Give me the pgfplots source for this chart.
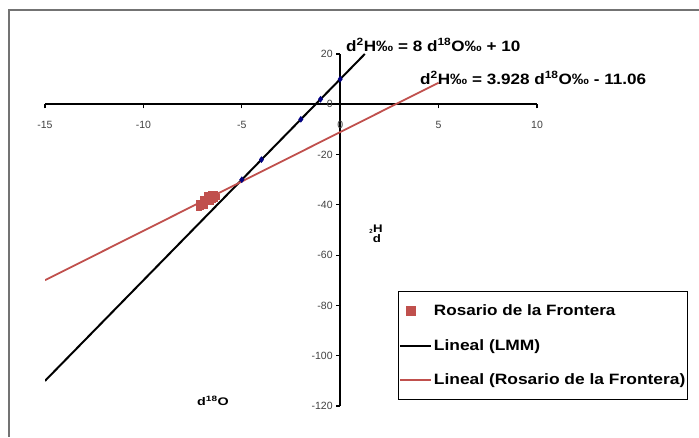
\documentclass[border=0pt]{standalone}
\usepackage{pgfplots}
\pgfplotsset{compat=1.18}
\usepackage{graphicx}
\usepackage{fontspec}
\setmainfont{Liberation Sans}
\definecolor{exred}{RGB}{192,80,77}
\definecolor{exblue}{RGB}{0,0,128}
\newcommand{\wide}[2]{\scalebox{#1}[1]{#2}}
\begin{document}
\begin{tikzpicture}[x=1pt,y=1pt]
\path[use as bounding box] (0,0) rectangle (699,437);
% outer chart frame
\draw[black!55, line width=1.6pt] (699,427) -- (9,427) -- (9,0);
\begin{axis}[
  at={(45pt,31pt)}, anchor=south west,
  scale only axis, width=492pt, height=352pt,
  xmin=-15, xmax=10, ymin=-120, ymax=20,
  axis lines=middle,
  axis line style={-, line width=2pt},
  xtick={-15,-10,...,10}, ytick={-120,-100,...,20},
  hide obscured x ticks=false, hide obscured y ticks=false,
  tick align=outside, major tick length=4pt,
  tick style={black, line width=1.2pt},
  /pgf/number format/assume math mode=true,
  ticklabel style={font=\fontsize{10.5}{11}\selectfont, text=black!75},
  xticklabel style={yshift=-9pt},
  legend style={at={(0.7175,0.3267)}, anchor=north west, draw=black,
    line width=0.9pt, fill=white, font=\bfseries\fontsize{15}{16}\selectfont,
    row sep=18pt, inner xsep=0.5pt, inner ysep=11.5pt},
  legend cell align=left,
  clip=true,
]
% LMM points (no legend)
\addplot[only marks, mark=diamond*, mark size=3pt, exblue, forget plot]
  coordinates {(0,10) (-1,2) (-2,-6) (-4,-22) (-5,-30)};
% Rosario de la Frontera samples
\addplot[only marks, mark=square*, mark size=2.6pt, exred,
  legend image code/.code={\fill[exred] (2pt,-4.5pt) rectangle (11pt,4.5pt);}]
  coordinates {(-7.1,-40.5) (-7.0,-39.5) (-6.9,-38.2) (-6.8,-37.8) (-6.7,-36.5)
    (-6.6,-37.2) (-6.5,-36.4) (-7.2,-41.2) (-6.9,-40.4) (-6.6,-38.8)
    (-6.4,-37.6) (-7.0,-37.6) (-6.8,-36.2) (-6.5,-38.0) (-7.2,-39.0)
    (-6.4,-35.6) (-6.6,-35.8) (-6.3,-36.6) (-6.8,-35.9)};
\addlegendentry{\wide{1.14}{Rosario de la Frontera}}
% trend lines
\addplot[black, line width=2pt, legend image code/.code={\draw[black, line width=2pt] (-4pt,0) -- (27pt,0);}]
  coordinates {(-15,-110) (1.25,20)};
\addlegendentry{\wide{1.16}{Lineal (LMM)}}
\addplot[exred, line width=1.8pt, legend image code/.code={\draw[draw=exred, line width=2pt] (-4pt,0) -- (27pt,0);}]
  coordinates {(-15,-69.98) (5,8.58)};
\addlegendentry{\wide{1.16}{Lineal (Rosario de la Frontera)}}
\end{axis}
% equations and axis titles
\node[anchor=west, font=\bfseries\fontsize{15}{17}\selectfont, inner sep=0pt] at (346,392)
  {\wide{1.14}{d\textsuperscript{2}H‰ = 8 d\textsuperscript{18}O‰ + 10}};
\node[anchor=west, font=\bfseries\fontsize{15}{17}\selectfont, inner sep=0pt] at (420,359)
  {\wide{1.14}{d\textsuperscript{2}H‰ = 3.928 d\textsuperscript{18}O‰ - 11.06}};
\node[anchor=west, font=\bfseries\fontsize{11}{12}\selectfont, inner sep=0pt] at (197,36)
  {\wide{1.3}{d\textsuperscript{18}O}};
\node[font=\bfseries\fontsize{11}{12}\selectfont, inner sep=0pt] at (378,208) {\wide{1.2}{H}};
\node[font=\bfseries\fontsize{6}{7}\selectfont, inner sep=0pt] at (371,206) {2};
\node[font=\bfseries\fontsize{11}{12}\selectfont, inner sep=0pt] at (377,198) {\wide{1.2}{d}};
\end{tikzpicture}
\end{document}
